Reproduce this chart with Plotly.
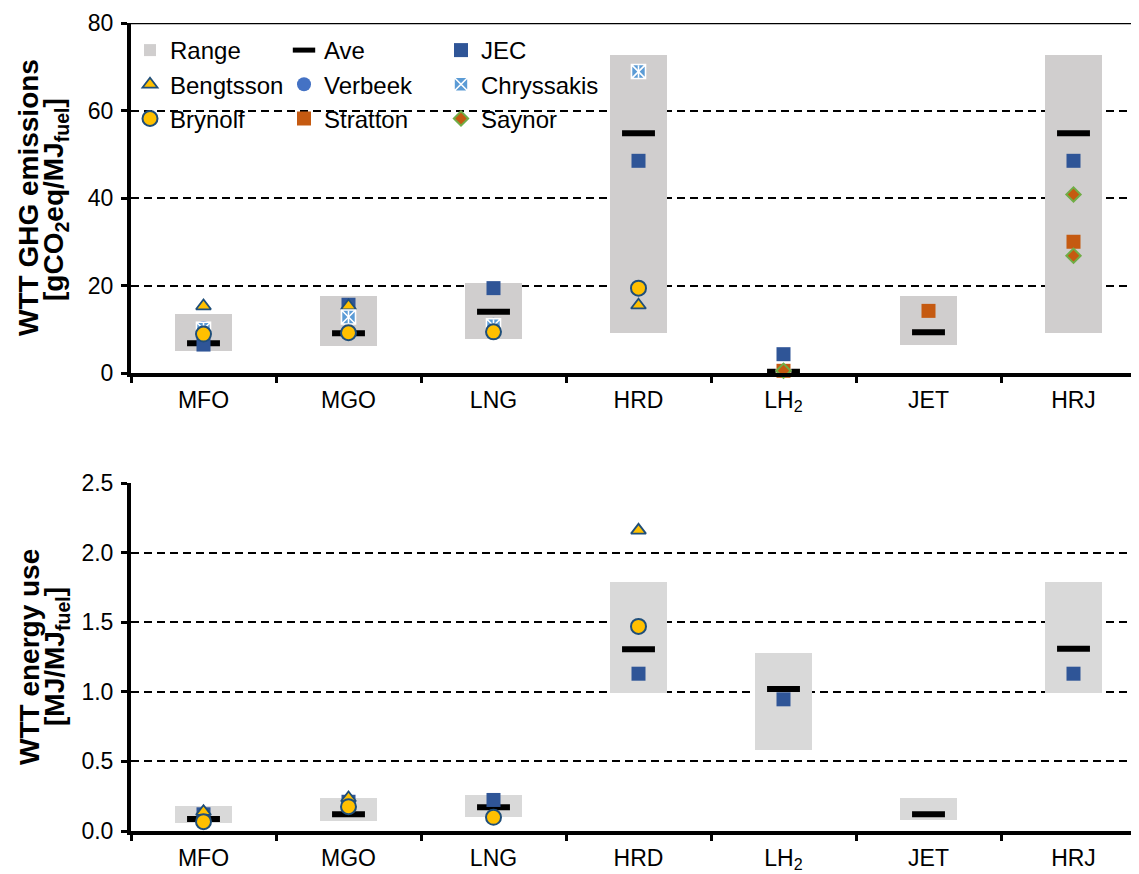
import plotly.graph_objects as go

categories = ["MFO", "MGO", "LNG", "HRD", "LH2", "JET", "HRJ"]
tick_labels = ["MFO", "MGO", "LNG", "HRD", "LH<sub>2</sub>", "JET", "HRJ"]

# ---- top panel: WTT GHG emissions [gCO2eq/MJfuel]
ghg_range_low = [5.0, 6.2, 7.7, 9.2, None, 6.3, 9.2]
ghg_range_high = [13.4, 17.6, 20.6, 72.7, None, 17.6, 72.7]
ghg_ave = [6.8, 9.1, 14.0, 54.8, 0.3, 9.3, 54.8]
ghg_jec = [6.5, 15.6, 19.4, 48.5, 4.3, None, 48.5]
ghg_bengtsson = [15.3, 15.3, None, 15.5, None, None, None]
ghg_verbeek = [10.3, None, 11.0, None, None, None, None]
ghg_chryssakis = [10.0, 12.8, 10.8, 68.9, 0.6, None, None]
ghg_brynolf = [8.9, 9.2, 9.4, 19.4, None, None, None]
ghg_stratton = [None, None, None, None, 0.5, 14.2, 30.0]
ghg_saynor_cat = ["LH2", "HRJ", "HRJ"]
ghg_saynor = [0.5, 40.8, 26.8]

# ---- bottom panel: WTT energy use [MJ/MJfuel]
en_range_low = [0.06, 0.074, 0.098, 0.99, 0.58, 0.08, 0.99]
en_range_high = [0.18, 0.235, 0.259, 1.79, 1.28, 0.235, 1.79]
en_ave = [0.086, 0.12, 0.17, 1.305, 1.02, 0.12, 1.31]
en_jec = [0.12, 0.21, 0.223, 1.13, 0.946, None, 1.13]
en_bengtsson = [0.139, 0.237, None, 2.16, None, None, None]
en_brynolf = [0.067, 0.175, 0.098, 1.47, None, None, None]

FONT = "Liberation Sans, Arial, Helvetica, sans-serif"
OFF = 8  # default page body margin
W, H = 1139 - OFF, 874 - OFF
ML, MR, MT = 131 - OFF, 0, 23 - OFF
MB = H - (831 - OFF)
PW, PH = W - ML - MR, H - MT - MB


def px_x(px):
    return (px - OFF - ML) / PW


def px_y(py):
    return 1 - (py - OFF - MT) / PH


styles = {
    "JEC": dict(symbol="square", size=14, color="#2F5597", line=dict(width=0)),
    "Bengtsson": dict(symbol="triangle-up", size=13, color="#FFC000",
                      line=dict(width=1.8, color="#1F4E79")),
    "Verbeek": dict(symbol="circle", size=14, color="#4472C4", line=dict(width=0)),
    "Chryssakis": dict(symbol="square-x", size=14, color="#5B9BD5",
                       line=dict(width=1.6, color="white")),
    "Brynolf": dict(symbol="circle", size=15, color="#FFC000",
                    line=dict(width=2, color="#1F4E79")),
    "Stratton": dict(symbol="square", size=14, color="#C55A11", line=dict(width=0)),
    "Saynor": dict(symbol="diamond", size=11, color="#C55A11",
                   line=dict(width=2, color="#70AD47")),
}
legend_of = {"Range": "legend", "Ave": "legend2", "JEC": "legend3",
             "Bengtsson": "legend", "Verbeek": "legend2", "Chryssakis": "legend3",
             "Brynolf": "legend", "Stratton": "legend2", "Saynor": "legend3"}

fig = go.Figure()


def add_panel(xa, ya, low, high, ave, series, range_color, show):
    heights = [None if (l is None or h is None) else h - l for l, h in zip(low, high)]
    fig.add_trace(go.Bar(x=categories, y=heights, base=low, width=0.39,
                         marker=dict(color=range_color, line=dict(width=0)),
                         name="Range", legend=legend_of["Range"], legendgroup="Range",
                         showlegend=show, xaxis=xa, yaxis=ya))
    fig.add_trace(go.Scatter(x=categories, y=ave, mode="markers", name="Ave",
                             marker=dict(symbol="line-ew", size=23.5, color="black",
                                         line=dict(width=6, color="black")),
                             legend=legend_of["Ave"], legendgroup="Ave",
                             showlegend=show, cliponaxis=False, xaxis=xa, yaxis=ya))
    for name, xs, ys in series:
        st = styles[name]
        fig.add_trace(go.Scatter(x=xs, y=ys, mode="markers", name=name,
                                 marker=st, legend=legend_of[name], legendgroup=name,
                                 showlegend=show, cliponaxis=False, xaxis=xa, yaxis=ya))
        if name == "Chryssakis":
            fig.add_trace(go.Scatter(x=xs, y=ys, mode="markers", name=name,
                                     marker=dict(symbol="line-ns", size=9, color="white",
                                                 line=dict(width=1.6, color="white")),
                                     legendgroup=name, showlegend=False,
                                     cliponaxis=False, hoverinfo="skip",
                                     xaxis=xa, yaxis=ya))


add_panel("x", "y", ghg_range_low, ghg_range_high, ghg_ave, [
    ("JEC", categories, ghg_jec),
    ("Bengtsson", categories, ghg_bengtsson),
    ("Verbeek", categories, ghg_verbeek),
    ("Chryssakis", categories, ghg_chryssakis),
    ("Brynolf", categories, ghg_brynolf),
    ("Stratton", categories, ghg_stratton),
    ("Saynor", ghg_saynor_cat, ghg_saynor),
], "#D0CECE", True)

add_panel("x2", "y2", en_range_low, en_range_high, en_ave, [
    ("JEC", categories, en_jec),
    ("Bengtsson", categories, en_bengtsson),
    ("Brynolf", categories, en_brynolf),
], "#D9D9D9", False)

xrange_ = [-0.5, -0.5 + PW / 145.0]
top_dom = [px_y(373), 1.0]
bot_dom = [0.0, px_y(483)]

xcommon = dict(type="category", categoryorder="array", categoryarray=categories,
               range=xrange_, tickmode="array", tickvals=categories, ticktext=tick_labels,
               tickson="boundaries", ticks="outside", ticklen=6, tickwidth=3,
               tickcolor="black", showline=True, linewidth=4, linecolor="black",
               showgrid=False, zeroline=False, ticklabelstandoff=3,
               tickfont=dict(family=FONT, size=23, color="black"), domain=[0, 1])
ycommon = dict(ticks="outside", ticklen=6, tickwidth=3, tickcolor="black",
               showline=True, linewidth=4, linecolor="black", zeroline=False,
               showgrid=True, gridcolor="black", gridwidth=2, griddash="8px,5px",
               ticklabelstandoff=3,
               tickfont=dict(family=FONT, size=23, color="black"))

fig.update_layout(
    width=W, height=H,
    margin=dict(l=ML, r=MR, t=MT, b=MB, pad=0),
    paper_bgcolor="white", plot_bgcolor="white",
    font=dict(family=FONT, size=23, color="black"),
    bargap=0,
    xaxis=dict(xcommon, anchor="y"),
    yaxis=dict(ycommon, anchor="x", domain=top_dom, range=[0, 80], dtick=20, tick0=0),
    xaxis2=dict(xcommon, anchor="y2"),
    yaxis2=dict(ycommon, anchor="x2", domain=bot_dom, range=[0, 2.5], dtick=0.5,
                tick0=0, tickformat=".1f"),
    showlegend=True,
)

leg_common = dict(orientation="v", xanchor="left", yanchor="top", y=px_y(28),
                  bgcolor="rgba(0,0,0,0)", borderwidth=0, tracegroupgap=0,
                  traceorder="grouped", itemsizing="trace",
                  font=dict(family=FONT, size=24, color="black"))
fig.update_layout(
    legend=dict(leg_common, x=px_x(130)),
    legend2=dict(leg_common, x=px_x(284)),
    legend3=dict(leg_common, x=px_x(441)),
)

# solid top border of the upper panel at the axis maximum
fig.add_shape(type="line", xref="x domain", yref="y", x0=0, x1=1, y0=80, y1=80,
              line=dict(color="black", width=2.5), layer="above")

title_font = dict(family=FONT, size=28, color="black")
for txt, xp, yp in [
    ("<b>WTT GHG emissions</b>", 29, 198),
    ("<b>[gCO<sub>2</sub>eq/MJ<sub>fuel</sub>]</b>", 56, 200),
    ("<b>WTT energy use</b>", 29, 657),
    ("<b>[MJ/MJ<sub>fuel</sub>]</b>", 56, 657),
]:
    fig.add_annotation(text=txt, xref="paper", yref="paper", x=px_x(xp), y=px_y(yp),
                       xanchor="center", yanchor="middle", textangle=-90,
                       showarrow=False, font=title_font)

fig.write_html("out.html")
